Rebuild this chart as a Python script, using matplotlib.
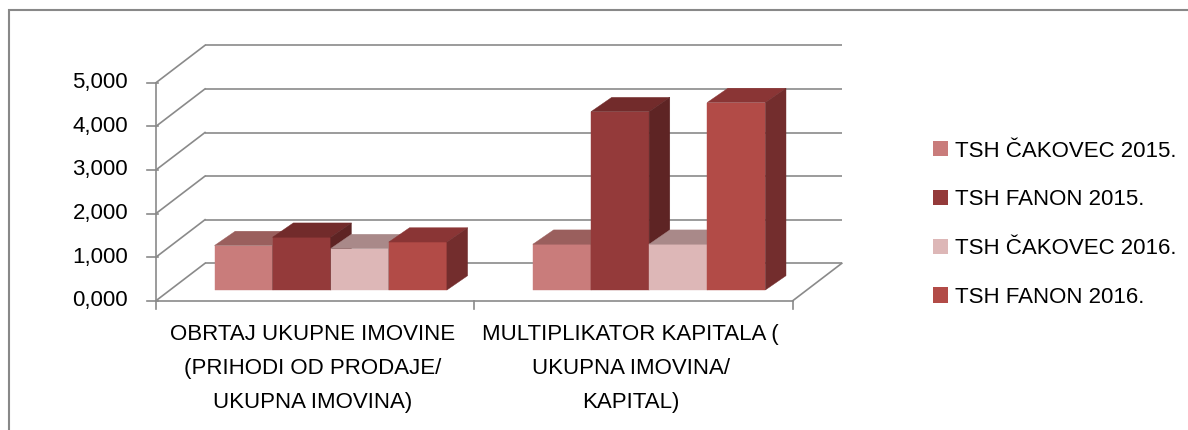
import matplotlib
matplotlib.use("Agg")
import matplotlib.pyplot as plt
import matplotlib.transforms as mtransforms
from matplotlib.patches import Polygon, Patch, Rectangle

plt.rcParams["font.family"] = ["Liberation Sans", "DejaVu Sans"]
FONTSIZE = 16

# data
categories = [
    "OBRTAJ UKUPNE IMOVINE\n(PRIHODI OD PRODAJE/\nUKUPNA IMOVINA)",
    "MULTIPLIKATOR KAPITALA (\nUKUPNA IMOVINA/\nKAPITAL)",
]
series_names = ["TSH ČAKOVEC 2015.", "TSH FANON 2015.", "TSH ČAKOVEC 2016.", "TSH FANON 2016."]
cakovec_2015 = [1.02, 1.05]
fanon_2015 = [1.21, 4.09]
cakovec_2016 = [0.95, 1.05]
fanon_2016 = [1.10, 4.30]
y_ticks = [0, 1, 2, 3, 4, 5]

series = [cakovec_2015, fanon_2015, cakovec_2016, fanon_2016]
front_cols = ["#c97c7b", "#943a3a", "#ddb7b7", "#b24b47"]
top_cols = ["#9a5f5d", "#722b2b", "#a98989", "#8a3535"]
side_cols = ["#7e4a49", "#5e2424", "#8f7272", "#732d2d"]
grid_col = "#8a8a8a"

W, H = 1188, 430
fig = plt.figure(figsize=(W / 100, H / 100), dpi=100)
ax = fig.add_axes([0, 0, 1, 1])
ax.set_axis_off()

# front plane layout in pixels
x0_px, cat_px = 156.0, 318.4
y0_px, unit_px = 300.7, 43.6
ax.set_xlim(-0.5 - x0_px / cat_px, -0.5 + (W - x0_px) / cat_px)
ax.set_ylim((y0_px - H) / unit_px, y0_px / unit_px)

# floor depth and bar depth (data units)
DX, DY = 49.0 / cat_px, 37.4 / unit_px
bdx, bdy = 20.7 / cat_px, 14.3 / unit_px
off_x, off_y = 15.5 / cat_px, 10.7 / unit_px

n_cat = len(categories)
x_left, x_right = -0.5, n_cat - 0.5
lw = 1.2

def px_offset(dx, dy):
    return ax.transData + mtransforms.ScaledTranslation(dx / 100, dy / 100, fig.dpi_scale_trans)

# walls
for v in y_ticks:
    ax.plot([x_left + DX, x_right + DX], [v + DY] * 2, color=grid_col, lw=lw, zorder=1,
            solid_capstyle="butt")
    ax.plot([x_left, x_left + DX], [v, v + DY], color=grid_col, lw=lw, zorder=1)
    ax.plot([x_left - 9 / cat_px, x_left + 2 / cat_px], [v, v], color=grid_col, lw=lw, zorder=2)
ax.plot([x_left, x_right], [0, 0], color=grid_col, lw=lw, zorder=2)
ax.plot([x_right, x_right + DX], [0, DY], color=grid_col, lw=lw, zorder=2)
ax.plot([x_left, x_left], [0, y_ticks[-1]], color=grid_col, lw=lw, zorder=2)
for k in range(n_cat + 1):
    ax.plot([x_left + k, x_left + k], [0, -8.5 / unit_px], color=grid_col, lw=lw, zorder=2)

# bars
n_s = len(series)
group_w = 232.4 / cat_px
bw = group_w / n_s
for i, vals in enumerate(series):
    xs = [c - group_w / 2 + i * bw + off_x for c in range(n_cat)]
    z = 10 + 3 * i
    ax.bar(xs, vals, bw, bottom=off_y, align="edge", color=front_cols[i],
           edgecolor=front_cols[i], linewidth=0.3, zorder=z)
    for xl, v in zip(xs, vals):
        xr = xl + bw
        t = off_y + v
        ax.add_patch(Polygon([(xl, t), (xr, t), (xr + bdx, t + bdy), (xl + bdx, t + bdy)],
                             closed=True, fc=top_cols[i], ec=top_cols[i], lw=0.3, zorder=z + 1))
        ax.add_patch(Polygon([(xr, off_y), (xr, t), (xr + bdx, t + bdy), (xr + bdx, off_y + bdy)],
                             closed=True, fc=side_cols[i], ec=side_cols[i], lw=0.3, zorder=z + 2))

# value labels
for v in y_ticks:
    ax.text(x_left, v, f"{v:.3f}".replace(".", ","), transform=px_offset(-28, 0),
            ha="right", va="center", fontsize=FONTSIZE, color="black")

# category labels
for c, label in enumerate(categories):
    for j, line in enumerate(label.split("\n")):
        ax.text(c, 0, line, transform=px_offset(-3, -34 - 34 * j),
                ha="center", va="center", fontsize=FONTSIZE, color="black")

handles = [Patch(facecolor=col, edgecolor="none") for col in front_cols]
ax.legend(handles, series_names, loc="center left", bbox_to_anchor=(933 / W, 1 - 224.2 / H),
          bbox_transform=fig.transFigure, frameon=False, fontsize=FONTSIZE,
          handlelength=0.68, handleheight=0.68, handletextpad=0.3, labelspacing=1.25,
          borderpad=0, borderaxespad=0)

# outer chart frame (cropped on right and bottom)
fig.add_artist(Rectangle((9 / W, -0.5), 2, 1.5 - 10 / H, transform=fig.transFigure,
                         fill=False, ec="#888888", lw=1.5))

fig.savefig("out.png", dpi=100)
